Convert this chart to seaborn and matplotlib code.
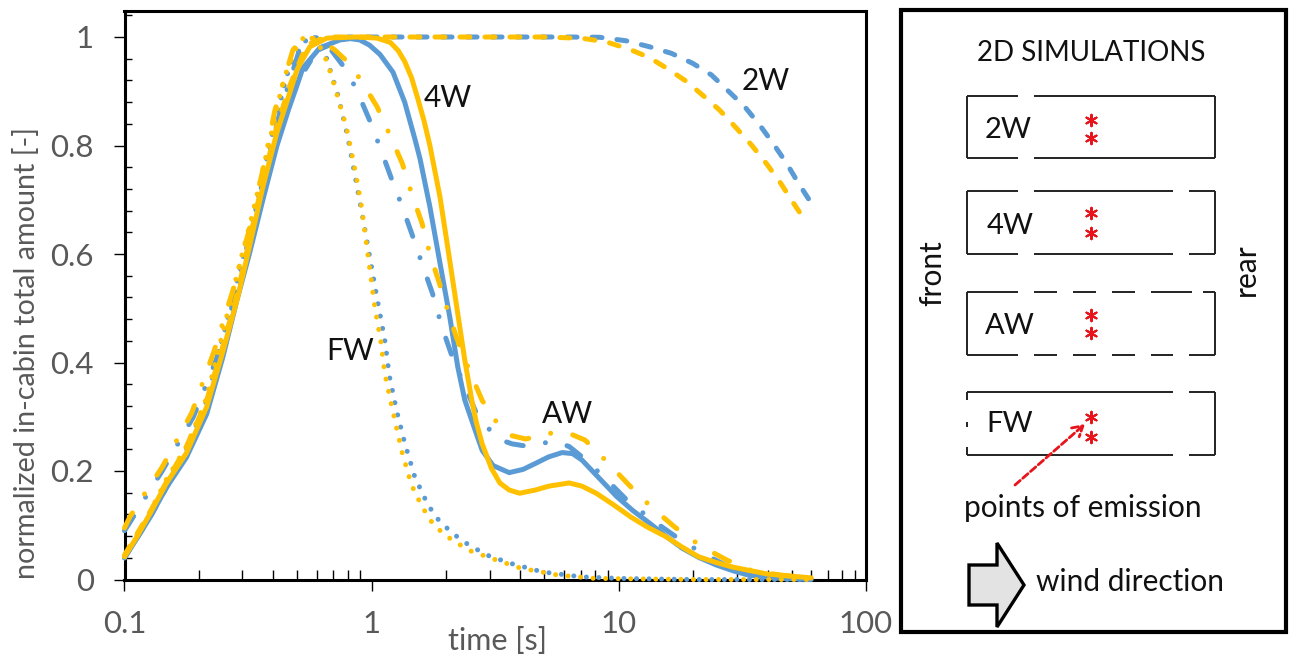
import matplotlib
matplotlib.use("Agg")
import matplotlib.pyplot as plt
from matplotlib.patches import Polygon, Rectangle
import seaborn as sns

sns.set_theme(style="white")
plt.rcParams['font.family'] = ['Lato', 'DejaVu Sans']

BLUE = '#5b9bd5'
YELLOW = '#ffc000'
GRAY = '#595959'

# values: time [s] and normalized amount
t_4w_blue = [0.1, 0.112, 0.127, 0.148, 0.178, 0.215, 0.25, 0.285, 0.32, 0.363, 0.414, 0.46, 0.498, 0.527, 0.617, 0.743, 0.82, 0.896, 0.98, 1.08, 1.22, 1.36, 1.5, 1.57, 1.72, 1.89, 2.07, 2.23, 2.38, 2.6, 2.8, 3.1, 3.6, 4.1, 4.6, 5.2, 5.9, 6.5, 7.1, 8.2, 9.8, 11.4, 13.3, 15.5, 18, 21, 24.7, 29, 33.5, 45, 60]
v_4w_blue = [0.04, 0.075, 0.115, 0.17, 0.225, 0.305, 0.41, 0.515, 0.6, 0.7, 0.8, 0.865, 0.91, 0.943, 0.98, 0.9945, 0.997, 0.9945, 0.985, 0.968, 0.935, 0.88, 0.81, 0.775, 0.687, 0.583, 0.484, 0.392, 0.331, 0.28, 0.238, 0.21, 0.197, 0.203, 0.214, 0.226, 0.234, 0.232, 0.22, 0.19, 0.153, 0.127, 0.104, 0.08, 0.058, 0.041, 0.027, 0.016, 0.008, 0.002, 0.0]
t_4w_yellow = [0.1, 0.112, 0.127, 0.148, 0.178, 0.215, 0.25, 0.287, 0.32, 0.363, 0.413, 0.466, 0.499, 0.562, 0.659, 0.87, 1.05, 1.19, 1.28, 1.36, 1.45, 1.54, 1.63, 1.72, 1.89, 2.03, 2.21, 2.38, 2.54, 2.65, 2.8, 3.05, 3.3, 3.6, 3.97, 4.6, 5.2, 6.3, 7.1, 8.1, 9.5, 11.2, 13, 15.5, 18, 21, 24.5, 28.8, 40, 60]
v_4w_yellow = [0.042, 0.078, 0.122, 0.178, 0.233, 0.318, 0.42, 0.52, 0.613, 0.724, 0.823, 0.897, 0.94, 0.982, 0.998, 1.0, 0.998, 0.99, 0.975, 0.955, 0.925, 0.885, 0.845, 0.8, 0.705, 0.613, 0.502, 0.405, 0.331, 0.29, 0.25, 0.205, 0.178, 0.165, 0.159, 0.165, 0.172, 0.178, 0.172, 0.159, 0.138, 0.115, 0.097, 0.079, 0.06, 0.042, 0.032, 0.023, 0.01, 0.003]

t_2w_blue = [0.1, 0.127, 0.148, 0.178, 0.215, 0.25, 0.285, 0.32, 0.363, 0.414, 0.498, 0.6, 0.8, 1.5, 3, 6, 8.37, 10.7, 13.3, 16.3, 19.9, 23.7, 27.5, 32.3, 37.1, 41.9, 47.6, 52.9, 60.8]
v_2w_blue = [0.04, 0.115, 0.17, 0.23, 0.31, 0.415, 0.52, 0.605, 0.71, 0.81, 0.915, 0.975, 1.0, 1.0, 1.0, 1.0, 0.9995, 0.993, 0.982, 0.97, 0.9515, 0.93, 0.902, 0.8715, 0.838, 0.805, 0.768, 0.733, 0.69]
t_2w_yellow = [0.1, 0.127, 0.15, 0.178, 0.215, 0.25, 0.287, 0.32, 0.363, 0.413, 0.466, 0.545, 0.65, 1.5, 3, 5, 7.1, 8.9, 11.1, 13.3, 15.8, 18.8, 21.8, 25.6, 29.9, 34.4, 39.5, 44.8, 50.5, 58]
v_2w_yellow = [0.045, 0.125, 0.185, 0.245, 0.33, 0.43, 0.53, 0.625, 0.735, 0.835, 0.91, 0.985, 1.0, 1.0, 1.0, 1.0, 0.9976, 0.991, 0.977, 0.962, 0.941, 0.918, 0.893, 0.865, 0.832, 0.801, 0.767, 0.733, 0.696, 0.655]

t_aw_blue = [0.1, 0.105, 0.121, 0.142, 0.19, 0.235, 0.28, 0.32, 0.37, 0.425, 0.51, 0.58, 0.65, 0.71, 0.79, 0.87, 0.98, 1.08, 1.2, 1.33, 1.47, 1.61, 1.76, 1.92, 2.12, 2.65, 3.2, 3.7, 4.2, 5.5, 6.3, 7.1, 8.8, 10.8, 13.5, 17, 21.8, 28, 40, 60]
v_aw_blue = [0.09, 0.105, 0.15, 0.2, 0.3, 0.405, 0.52, 0.632, 0.75, 0.86, 0.976, 1.0, 0.99, 0.967, 0.939, 0.902, 0.847, 0.797, 0.74, 0.687, 0.631, 0.578, 0.528, 0.467, 0.41, 0.307, 0.26, 0.25, 0.246, 0.255, 0.245, 0.226, 0.187, 0.146, 0.111, 0.079, 0.048, 0.023, 0.008, 0.002]
t_aw_yellow = [0.1, 0.105, 0.121, 0.142, 0.187, 0.23, 0.275, 0.318, 0.363, 0.406, 0.48, 0.53, 0.62, 0.71, 0.8, 0.9, 1.05, 1.18, 1.33, 1.45, 1.6, 1.72, 1.88, 2.05, 2.2, 2.5, 2.8, 3.3, 3.7, 4.2, 5.6, 6.4, 7.3, 9.0, 11, 13.5, 16.8, 21.4, 27.3, 33.5, 45, 60]
v_aw_yellow = [0.095, 0.115, 0.159, 0.207, 0.307, 0.42, 0.534, 0.641, 0.755, 0.865, 0.976, 1.0, 0.995, 0.976, 0.954, 0.922, 0.872, 0.821, 0.767, 0.712, 0.656, 0.6, 0.546, 0.49, 0.447, 0.382, 0.33, 0.281, 0.265, 0.259, 0.272, 0.268, 0.257, 0.216, 0.174, 0.134, 0.097, 0.062, 0.036, 0.018, 0.008, 0.003]

t_fw_blue = [0.1, 0.127, 0.148, 0.178, 0.215, 0.3, 0.336, 0.4, 0.454, 0.52, 0.56, 0.62, 0.73, 0.8, 0.92, 1.05, 1.07, 1.13, 1.18, 1.26, 1.36, 1.49, 1.63, 1.8, 2.11, 2.5, 3.0, 3.7, 4.9, 7, 10, 20, 60]
v_fw_blue = [0.04, 0.12, 0.18, 0.24, 0.33, 0.589, 0.675, 0.83, 0.93, 0.985, 1.0, 0.998, 0.893, 0.816, 0.668, 0.52, 0.5, 0.441, 0.375, 0.312, 0.252, 0.191, 0.152, 0.117, 0.086, 0.062, 0.043, 0.029, 0.014, 0.005, 0.002, 0.0, 0.0]
t_fw_yellow = [0.1, 0.127, 0.148, 0.178, 0.215, 0.295, 0.33, 0.4, 0.43, 0.454, 0.5, 0.54, 0.6, 0.66, 0.7, 0.79, 0.86, 0.91, 1.03, 1.09, 1.13, 1.21, 1.33, 1.45, 1.6, 1.79, 2.11, 2.5, 3.1, 4.0, 5.7, 8, 20, 60]
v_fw_yellow = [0.042, 0.125, 0.185, 0.245, 0.335, 0.589, 0.675, 0.838, 0.902, 0.939, 0.985, 1.003, 0.995, 0.954, 0.917, 0.834, 0.751, 0.687, 0.502, 0.438, 0.38, 0.316, 0.233, 0.174, 0.134, 0.099, 0.073, 0.053, 0.038, 0.021, 0.008, 0.002, 0.0, 0.0]

x_major = [0.1, 1, 10, 100]
x_labels = ['0.1', '1', '10', '100']
y_major = [0, 0.2, 0.4, 0.6, 0.8, 1.0]
y_labels = ['0', '0.2', '0.4', '0.6', '0.8', '1']

W, H = 1295, 658
fig = plt.figure(figsize=(W / 100, H / 100), dpi=100, facecolor='white')

# chart, placed by pixels
left, right, top, bottom = 124.5, 866, 11, 579.5
ax = fig.add_axes([left / W, 1 - bottom / H, (right - left) / W, (bottom - top) / H])
ax.set_xscale('log')

DASHED = (0, (2.0, 3.0))
DASHDOT = (0, (3.4, 4.5, 0.01, 4.5))
DOTTED = (0, (0.01, 2.5))

series = [
    (t_2w_blue, v_2w_blue, BLUE, DASHED),
    (t_aw_blue, v_aw_blue, BLUE, DASHDOT),
    (t_fw_blue, v_fw_blue, BLUE, DOTTED),
    (t_4w_blue, v_4w_blue, BLUE, '-'),
    (t_2w_yellow, v_2w_yellow, YELLOW, DASHED),
    (t_aw_yellow, v_aw_yellow, YELLOW, DASHDOT),
    (t_fw_yellow, v_fw_yellow, YELLOW, DOTTED),
    (t_4w_yellow, v_4w_yellow, YELLOW, '-'),
]
for t, v, c, ls in series:
    sns.lineplot(x=t, y=v, ax=ax, color=c, linestyle=ls, linewidth=3.6, estimator=None,
                 dash_capstyle='round', solid_capstyle='round', zorder=3, clip_on=False)

ax.set_xlim(0.1, 100)
ax.set_ylim(0, (bottom - top) / 542.5)
ax.set_xticks(x_major)
ax.set_xticklabels(x_labels)
ax.set_xticks([m * d for d in [0.1, 1, 10] for m in range(2, 10)], minor=True)
ax.set_xticklabels([], minor=True)
ax.set_yticks(y_major)
ax.set_yticklabels(y_labels)
ax.set_yticks([0.04, 0.08, 0.12, 0.16, 0.24, 0.28, 0.32, 0.36, 0.44, 0.48, 0.52, 0.56,
               0.64, 0.68, 0.72, 0.76, 0.84, 0.88, 0.92, 0.96, 1.04], minor=True)
ax.tick_params(axis='x', which='major', direction='out', length=8, width=1, color='black',
               labelsize=22.5, labelcolor=GRAY, pad=14, bottom=True)
ax.tick_params(axis='x', which='minor', direction='in', length=7, width=1, color='black', bottom=True)
ax.tick_params(axis='y', which='major', direction='out', length=8, width=1, color='black',
               labelsize=22.5, labelcolor=GRAY, pad=14, left=True)
ax.tick_params(axis='y', which='minor', direction='in', length=5, width=1, color='black', left=True)
for s in ax.spines.values():
    s.set_visible(True)
    s.set_color('black')
    s.set_linewidth(2.2)

# everything else is placed in picture pixels
ov = fig.add_axes([0, 0, 1, 1], facecolor='none')
ov.set_xlim(0, W)
ov.set_ylim(H, 0)
ov.axis('off')

ov.text(27, 353, 'normalized in-cabin total amount [-]', rotation=90, ha='center', va='center',
        fontsize=20.7, color=GRAY)
ov.text(497, 641, 'time [s]', ha='center', va='center', fontsize=22, color=GRAY)

for label, px, py in [('4W', 448, 98), ('2W', 766, 81), ('AW', 567, 414), ('FW', 350, 351)]:
    ov.text(px, py, label, ha='center', va='center', fontsize=21.5, color='#111111')

# right panel
ov.add_patch(Rectangle((901, 10), 385, 622, fill=False, edgecolor='black', linewidth=3))
ov.text(1091, 53, '2D SIMULATIONS', ha='center', va='center', fontsize=20, color='#111111')

boxes = [
    ('2W', 96, 158, [(967, 1018), (1034, 1215)], [(967, 1018), (1034, 1215)], [(96, 158)], 1008, 120, 138),
    ('4W', 191, 254, [(967, 1018), (1034, 1173), (1189, 1215)], [(967, 1018), (1034, 1173), (1189, 1215)],
     [(191, 254)], 1010, 213, 233),
    ('AW', 292, 355, [(967, 1018), (1034, 1057), (1073, 1096), (1112, 1135), (1151, 1192), (1203, 1215)],
     [(967, 1018), (1034, 1057), (1073, 1096), (1112, 1135), (1151, 1173), (1189, 1215)],
     [(292, 355)], 1010, 315, 333),
    ('FW', 392, 455, [(967, 1173), (1189, 1215)], [(967, 1173), (1189, 1215)],
     [(392, 400), (422, 427), (447, 455)], 1010, 417, 437),
]
for name, y0, y1, top_segs, bot_segs, left_segs, tx, s0, s1 in boxes:
    for a, b in top_segs:
        ov.plot([a, b], [y0, y0], color='#222222', lw=1.4, solid_capstyle='butt')
    for a, b in bot_segs:
        ov.plot([a, b], [y1, y1], color='#222222', lw=1.4, solid_capstyle='butt')
    for a, b in left_segs:
        ov.plot([967, 967], [a, b], color='#222222', lw=1.4, solid_capstyle='butt')
    ov.plot([1215, 1215], [y0, y1], color='#222222', lw=1.4, solid_capstyle='butt')
    ov.text(tx, (y0 + y1) / 2 + 3 - (0 if name != 'FW' else 3), name, ha='center', va='center',
            fontsize=21, color='#111111')
    ov.scatter([1091, 1091], [s0, s1], marker=(6, 2, 0), s=68, color='#e8141c', linewidths=1.5, zorder=4)

ov.text(932, 273, 'front', rotation=90, ha='center', va='center', fontsize=21.5, color='#111111')
ov.text(1246, 270, 'rear', rotation=90, ha='center', va='center', fontsize=21.5, color='#111111')
ov.text(1083, 508, 'points of emission', ha='center', va='center', fontsize=21.5, color='#111111')
ov.text(1130, 582, 'wind direction', ha='center', va='center', fontsize=21.5, color='#111111')

ov.annotate('', xy=(1085, 424), xytext=(1015, 485),
            arrowprops=dict(arrowstyle='->,head_length=0.6,head_width=0.35', color='#e8141c', lw=2,
                            linestyle=(0, (2.5, 1.2)), shrinkA=0, shrinkB=0))
ov.add_patch(Polygon([(969, 565), (997, 565), (997, 543), (1024, 585), (997, 627), (997, 605), (969, 605)],
                     closed=True, facecolor='#e3e3e3', edgecolor='black', linewidth=2.4))

fig.savefig('out.png', dpi=100)
